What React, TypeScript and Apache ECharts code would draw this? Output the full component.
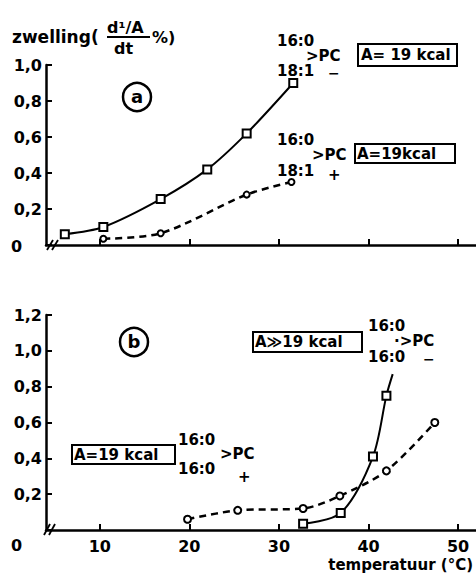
import React, { useEffect, useRef } from "react";
import * as echarts from "echarts";

// Panel (a): 16:0/18:1 PC, A = 19 kcal
const aMinusT = [6.1, 10.4, 16.8, 22.0, 26.4, 31.6];
const aMinusV = [0.06, 0.10, 0.255, 0.42, 0.62, 0.90];
const aPlusT = [10.4, 16.8, 26.4, 31.4];
const aPlusV = [0.035, 0.065, 0.28, 0.35];
// Panel (b): 16:0/16:0 PC
const bMinusT = [32.7, 36.9, 40.5, 42.0];
const bMinusV = [0.035, 0.095, 0.41, 0.75];
const bMinusEnd = [42.7, 0.87];
const bPlusT = [19.8, 25.4, 32.7, 36.8, 42.0, 47.4];
const bPlusV = [0.06, 0.11, 0.12, 0.19, 0.33, 0.60];
const xTicks = [10, 20, 30, 40, 50];
const aYTicks = [0, 0.2, 0.4, 0.6, 0.8, 1.0];
const bYTicks = [0, 0.2, 0.4, 0.6, 0.8, 1.0, 1.2];

const FONT = "DejaVu Sans";
const fmt = (v: number) => (v === 0 ? "" : v.toFixed(1).replace(".", ","));

function txt(x: number, y: number, s: string, size = 14, align = "left") {
  return {
    type: "text",
    x,
    y,
    style: {
      text: s,
      fontFamily: FONT,
      fontWeight: "bold",
      fontSize: size,
      fill: "#000",
      textAlign: align,
      textVerticalAlign: "middle",
    },
  };
}
function box(x: number, y: number, w: number, h: number) {
  return {
    type: "rect",
    shape: { x, y, width: w, height: h },
    style: { fill: "none", stroke: "#000", lineWidth: 2 },
  };
}
function ln(x1: number, y1: number, x2: number, y2: number, w = 2) {
  return {
    type: "line",
    shape: { x1, y1, x2, y2 },
    style: { stroke: "#000", lineWidth: w },
  };
}
function circ(cx: number, cy: number, letter: string) {
  return [
    {
      type: "circle",
      shape: { cx, cy, r: 14 },
      style: { fill: "none", stroke: "#000", lineWidth: 2.5 },
    },
    txt(cx, cy - 1, letter, 18, "center"),
  ];
}

const zip = (a: number[], b: number[]) => a.map((v, i) => [v, b[i]]);

export default function App() {
  const ref = useRef<HTMLDivElement>(null);
  useEffect(() => {
    document.body.style.margin = "0";
    if (!ref.current) return;
    const chart = echarts.init(ref.current, null, { renderer: "svg" });
    const xAxisBase = (gi: number, showLabels: boolean) => ({
      type: "value",
      gridIndex: gi,
      min: 4,
      max: 52,
      splitLine: { show: false },
      axisLine: { onZero: false, lineStyle: { color: "#000", width: 2.5 } },
      axisTick: {
        inside: true,
        length: 6,
        customValues: xTicks,
        lineStyle: { color: "#000", width: 2 },
      },
      axisLabel: {
        show: showLabels,
        customValues: xTicks,
        color: "#000",
        fontFamily: FONT,
        fontWeight: "bold",
        fontSize: 16,
        margin: 8,
      },
    });
    const yAxisBase = (gi: number, max: number, ticks: number[]) => ({
      type: "value",
      gridIndex: gi,
      min: 0,
      max,
      splitLine: { show: false },
      axisLine: { lineStyle: { color: "#000", width: 2.5 } },
      axisTick: {
        inside: true,
        length: 6,
        customValues: ticks,
        lineStyle: { color: "#000", width: 2 },
      },
      axisLabel: {
        customValues: ticks,
        formatter: fmt,
        color: "#000",
        fontFamily: FONT,
        fontWeight: "bold",
        fontSize: 16,
        margin: 4,
      },
    });
    const solid = { color: "#000", width: 2 };
    const dashed = { color: "#000", width: 2.5, type: [7, 5] };
    chart.setOption({
      animation: false,
      backgroundColor: "#fff",
      grid: [
        { left: 46, right: 0, top: 65, height: 180 },
        { left: 46, right: 0, top: 315, height: 215 },
      ],
      xAxis: [xAxisBase(0, false), xAxisBase(1, true)],
      yAxis: [yAxisBase(0, 1.0, aYTicks), yAxisBase(1, 1.2, bYTicks)],
      series: [
        {
          type: "line",
          xAxisIndex: 0,
          yAxisIndex: 0,
          data: zip(aMinusT, aMinusV),
          smooth: 0.3,
          symbol: "rect",
          symbolSize: 8,
          lineStyle: solid,
          itemStyle: { color: "#fff", borderColor: "#000", borderWidth: 2 },
        },
        {
          type: "line",
          xAxisIndex: 0,
          yAxisIndex: 0,
          data: zip(aPlusT, aPlusV),
          smooth: 0.3,
          symbol: "circle",
          symbolSize: 6,
          lineStyle: dashed,
          itemStyle: { color: "#fff", borderColor: "#000", borderWidth: 2 },
        },
        {
          type: "line",
          xAxisIndex: 1,
          yAxisIndex: 1,
          data: [
            ...zip(bMinusT, bMinusV),
            { value: bMinusEnd, symbol: "none" },
          ],
          smooth: 0.3,
          symbol: "rect",
          symbolSize: 8,
          lineStyle: solid,
          itemStyle: { color: "#fff", borderColor: "#000", borderWidth: 2 },
        },
        {
          type: "line",
          xAxisIndex: 1,
          yAxisIndex: 1,
          data: zip(bPlusT, bPlusV),
          smooth: 0.3,
          symbol: "circle",
          symbolSize: 7,
          lineStyle: dashed,
          itemStyle: { color: "#fff", borderColor: "#000", borderWidth: 2 },
        },
      ],
      graphic: [
        // y-axis title
        txt(12, 37, "zwelling(", 17),
        txt(107, 27, "d¹/A", 16),
        ln(107, 37, 150, 37, 2),
        txt(114, 48, "dt", 16),
        txt(152, 37, "%)", 16),
        // origin labels
        txt(11, 246, "0", 16),
        txt(11, 545, "0", 16),
        // axis breaks
        ln(47, 250, 53, 240, 1.8),
        ln(52, 250, 58, 240, 1.8),
        ln(44, 535, 50, 524, 1.8),
        ln(49, 535, 55, 524, 1.8),
        // circled letters
        ...circ(137, 97, "a"),
        ...circ(134, 342, "b"),
        // panel a, upper label
        txt(277, 41, "16:0", 15),
        txt(306, 56, ">PC", 15),
        txt(277, 71, "18:1", 15),
        txt(328, 73, "−", 14),
        box(358, 44, 99, 22),
        txt(361, 55, "A= 19 kcal", 15),
        // panel a, lower label
        txt(277, 140, "16:0", 15),
        txt(312, 155, ">PC", 15),
        txt(277, 171, "18:1", 15),
        txt(328, 175, "+", 15),
        box(355, 144, 100, 19),
        txt(357, 154, "A=19kcal", 15),
        // panel b, right label
        box(253, 332, 109, 20),
        txt(255, 342, "A≫19 kcal", 15),
        txt(368, 326, "16:0", 15),
        txt(394, 341, "·>PC", 15),
        txt(368, 357, "16:0", 15),
        txt(423, 359, "−", 14),
        // panel b, left label
        box(72, 445, 103, 19),
        txt(74, 455, "A=19 kcal", 15),
        txt(178, 440, "16:0", 15),
        txt(220, 454, ">PC", 15),
        txt(178, 469, "16:0", 15),
        txt(238, 477, "+", 15),
        // x-axis title
        txt(473, 565, "temperatuur (°C)", 15, "right"),
      ],
    });
    return () => chart.dispose();
  }, []);
  return <div ref={ref} style={{ width: 476, height: 576 }} />;
}
